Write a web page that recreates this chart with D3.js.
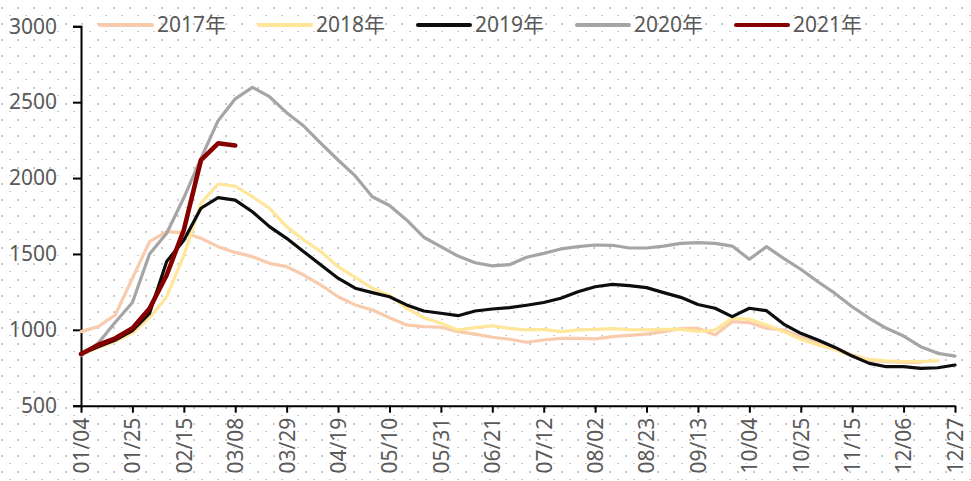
<!DOCTYPE html>
<html>
<head>
<meta charset="utf-8">
<script src="https://cdn.jsdelivr.net/npm/d3@7/dist/d3.min.js"></script>
<style>
  body { margin: 0; background: #fff; }
  svg text { font-family: "Noto Sans", "Noto Sans CJK SC", sans-serif; fill: #595959; }
</style>
</head>
<body>
<svg id="chart" width="971" height="481"></svg>
<script>
// week labels on the x axis (every 3rd week)
var tickLabels = ["01/04","01/25","02/15","03/08","03/29","04/19","05/10","05/31","06/21",
                  "07/12","08/02","08/23","09/13","10/04","10/25","11/15","12/06","12/27"];
var yTicks = [500, 1000, 1500, 2000, 2500, 3000];

var seriesNames = ["2017年", "2018年", "2019年", "2020年", "2021年"];
var seriesColors = ["#f8cbad", "#ffe699", "#0d0d0d", "#a5a5a5", "#870000"];

var y2017 = [988,1021,1098,1340,1581,1647,1640,1603,1548,1510,1482,1438,1416,1361,1295,1218,1164,1131,1080,1032,
             1021,1017,988,972,951,938,918,933,944,944,940,955,964,972,988,1008,1011,966,1054,1047,
             1010,999,955,911,878,835,800,790,785,785];
var y2018 = [840,880,925,977,1080,1218,1490,1834,1961,1946,1877,1801,1680,1592,1515,1416,1346,1274,1226,1142,
             1080,1043,999,1014,1027,1010,999,1003,988,999,1003,1008,1001,999,1003,1003,990,999,1076,1069,
             1032,988,938,900,870,827,806,795,790,790,797];
var y2019 = [841,889,933,995,1109,1450,1590,1801,1871,1855,1778,1680,1603,1515,1427,1340,1274,1245,1218,1164,
             1124,1109,1093,1124,1137,1146,1162,1180,1208,1251,1284,1300,1291,1278,1245,1214,1167,1142,1087,1142,
             1126,1038,977,933,884,827,779,757,757,746,750,768];
var y2020 = [830,911,1050,1180,1500,1636,1870,2130,2378,2522,2598,2536,2431,2343,2229,2119,2014,1877,1819,1724,
             1610,1548,1486,1442,1421,1429,1478,1504,1533,1548,1559,1557,1539,1539,1552,1570,1574,1570,1552,1465,
             1548,1471,1399,1317,1240,1152,1076,1010,959,889,845,827];
var y2021 = [841,900,944,1010,1140,1361,1658,2118,2229,2215];

var allSeries = [y2017, y2018, y2019, y2020, y2021];
var lineWidths = [3.2, 3.2, 3.2, 3.2, 4.6];

var svg = d3.select("#chart");
var margin = {left: 81, top: 26.3, right: 16, bottom: 75.3};
var W = 971 - margin.left - margin.right;
var H = 481 - margin.top - margin.bottom;

// dotted background
var defs = svg.append("defs");
var pat = defs.append("pattern")
  .attr("id", "dots")
  .attr("patternUnits", "userSpaceOnUse")
  .attr("width", 16).attr("height", 16);
pat.append("rect").attr("x", 1).attr("y", 7).attr("width", 2).attr("height", 2).attr("fill", "#cccccc");
pat.append("rect").attr("x", 9).attr("y", 15).attr("width", 2).attr("height", 2).attr("fill", "#cccccc");
svg.append("rect").attr("width", 971).attr("height", 481).attr("fill", "url(#dots)");

var g = svg.append("g").attr("transform", "translate(" + margin.left + "," + margin.top + ")");

var x = d3.scaleLinear().domain([0, 51]).range([0, W]);
var y = d3.scaleLinear().domain([500, 3000]).range([H, 0]);

// y axis
var yAxis = g.append("g")
  .call(d3.axisLeft(y).tickValues(yTicks).tickFormat(d3.format("d")).tickSize(8).tickPadding(16));
yAxis.select(".domain").attr("stroke", "#000").attr("stroke-width", 2);
yAxis.selectAll(".tick line").attr("stroke", "#000").attr("stroke-width", 2);
yAxis.selectAll("text").style("font-size", "21px").attr("fill", "#595959");

// x axis
var xAxis = g.append("g")
  .attr("transform", "translate(0," + H + ")")
  .call(d3.axisBottom(x)
    .tickValues(d3.range(0, 52, 3))
    .tickFormat(function(d, i) { return tickLabels[i]; })
    .tickSize(7)
    .tickSizeOuter(0));
xAxis.select(".domain").attr("stroke", "#000").attr("stroke-width", 2);
xAxis.selectAll(".tick line").attr("stroke", "#000").attr("stroke-width", 2);
xAxis.selectAll("text")
  .style("font-size", "21px")
  .attr("fill", "#595959")
  .attr("text-anchor", "end")
  .attr("dy", "0.35em")
  .attr("transform", "translate(0,12) rotate(-90)")
  .attr("x", 0).attr("y", 0);

// lines
var line = d3.line()
  .x(function(d, i) { return x(i); })
  .y(function(d) { return y(d); });

allSeries.forEach(function(s, k) {
  g.append("path")
    .datum(s)
    .attr("fill", "none")
    .attr("stroke", seriesColors[k])
    .attr("stroke-width", lineWidths[k])
    .attr("stroke-linejoin", "round")
    .attr("stroke-linecap", "round")
    .attr("d", line);
});

// legend
var legend = svg.append("g").attr("transform", "translate(100,25)");
seriesNames.forEach(function(name, k) {
  var item = legend.append("g").attr("transform", "translate(" + (k * 159) + ",0)");
  item.append("line")
    .attr("x1", 0).attr("x2", 52).attr("y1", 0).attr("y2", 0)
    .attr("stroke", seriesColors[k])
    .attr("stroke-width", 4)
    .attr("stroke-linecap", "round");
  item.append("text")
    .attr("x", 57).attr("y", 0)
    .attr("dy", "0.35em")
    .style("font-size", "21px")
    .text(name);
});
</script>
</body>
</html>
